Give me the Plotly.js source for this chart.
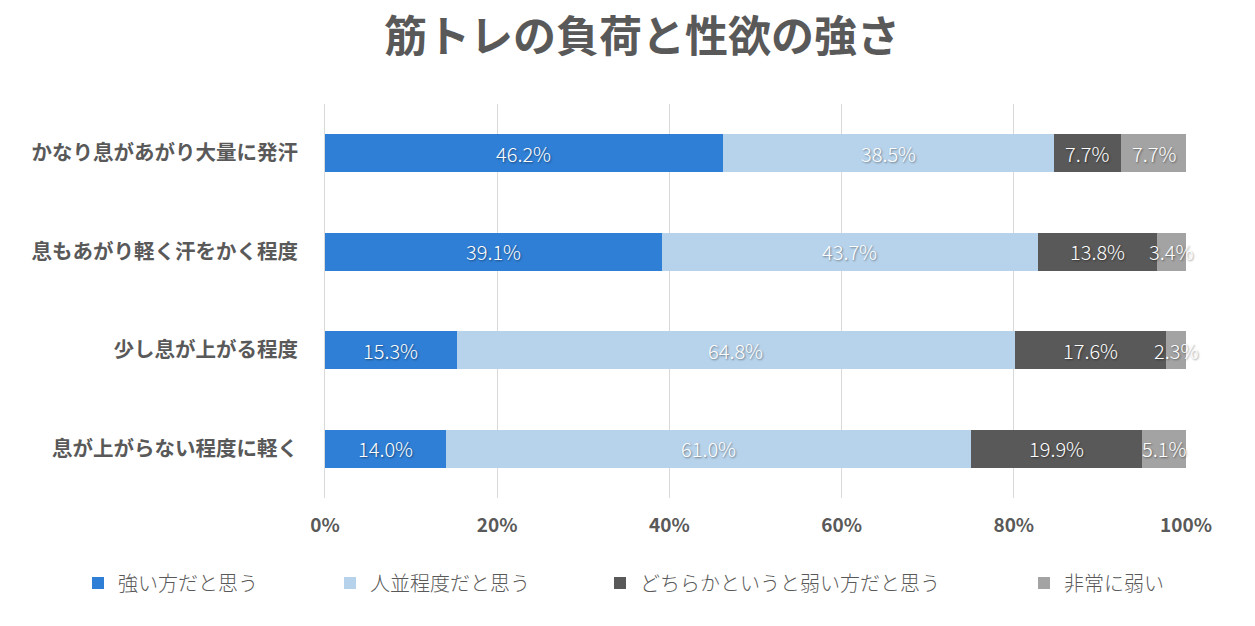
<!DOCTYPE html>
<html>
<head>
<meta charset="utf-8">
<script src="https://cdn.plot.ly/plotly-3.0.1.min.js"></script>
<style>html,body{margin:0;padding:0;background:#fff;}#chart{width:1255px;height:626px;}</style>
</head>
<body>
<div id="chart"></div>
<script>
const categories = ["かなり息があがり大量に発汗", "息もあがり軽く汗をかく程度", "少し息が上がる程度", "息が上がらない程度に軽く"];
const seriesNames = ["強い方だと思う", "人並程度だと思う", "どちらかというと弱い方だと思う", "非常に弱い"];
const strong = [46.2, 39.1, 15.3, 14.0];
const average = [38.5, 43.7, 64.8, 61.0];
const weakish = [7.7, 13.8, 17.6, 19.9];
const veryWeak = [7.7, 3.4, 2.3, 5.1];
const xTickVals = [0, 20, 40, 60, 80, 100];
const xTickText = ["0%", "20%", "40%", "60%", "80%", "100%"];

const colors = ["#2F7FD6", "#B7D3EB", "#595959", "#A3A3A3"];
const seriesValues = [strong, average, weakish, veryWeak];
const legendIds = ["legend", "legend2", "legend3", "legend4"];
const legendX = [78, 330, 600, 1024];
const FONT = "'Noto Sans CJK JP', 'Noto Sans', sans-serif";

const traces = seriesValues.map((vals, i) => ({
  type: "bar",
  orientation: "h",
  name: seriesNames[i],
  y: categories,
  x: vals,
  marker: {color: colors[i], line: {width: 0}},
  textposition: "none",
  hoverinfo: "name+x",
  legend: legendIds[i]
}));

// data labels centred in each stacked segment, positioned via the axes
const annotations = [];
categories.forEach((cat, ci) => {
  let cum = 0;
  seriesValues.forEach((vals) => {
    const v = vals[ci];
    annotations.push({
      x: cum + v / 2, y: cat, xref: "x", yref: "y",
      text: v.toFixed(1) + "%", showarrow: false,
      xanchor: "center", yanchor: "middle",
      font: {family: FONT, size: 20, color: "#ffffff", weight: 300, shadow: "1px 1px 2px rgba(0,0,0,0.45)"}
    });
    cum += v;
  });
});

const legendBase = (px) => ({
  orientation: "h",
  xref: "container", yref: "container",
  x: px / 1255, y: 1 - 583 / 626,
  xanchor: "left", yanchor: "middle",
  bgcolor: "rgba(0,0,0,0)", borderwidth: 0,
  font: {family: FONT, size: 20, color: "#595959", weight: 300},
  itemwidth: 30
});

const layout = {
  width: 1255, height: 626,
  paper_bgcolor: "#ffffff", plot_bgcolor: "#ffffff",
  margin: {l: 325, r: 69, t: 104, b: 128, pad: 0},
  barmode: "stack",
  bargap: 0.61,
  title: {
    text: "筋トレの負荷と性欲の強さ",
    font: {family: FONT, size: 43, color: "#595959", weight: 700},
    x: 642 / 1255, xref: "container", xanchor: "center",
    y: 1 - 37 / 626, yref: "container", yanchor: "middle"
  },
  xaxis: {
    range: [0, 100],
    tickvals: xTickVals, ticktext: xTickText,
    showgrid: true, gridcolor: "#D9D9D9", gridwidth: 1,
    zeroline: false, showline: false,
    ticks: "", ticklabelstandoff: 14,
    tickfont: {family: FONT, size: 19, color: "#595959", weight: 700},
    fixedrange: true
  },
  yaxis: {
    categoryorder: "array", categoryarray: categories.slice().reverse(),
    showgrid: false, zeroline: false,
    showline: true, linecolor: "#D9D9D9", linewidth: 1,
    ticks: "", ticklabelstandoff: 22,
    tickfont: {family: FONT, size: 20.5, color: "#595959", weight: 700},
    fixedrange: true
  },
  annotations: annotations,
  showlegend: true,
  legend: legendBase(legendX[0]),
  legend2: legendBase(legendX[1]),
  legend3: legendBase(legendX[2]),
  legend4: legendBase(legendX[3])
};

Plotly.newPlot("chart", traces, layout, {displayModeBar: false, staticPlot: true});
</script>
</body>
</html>
